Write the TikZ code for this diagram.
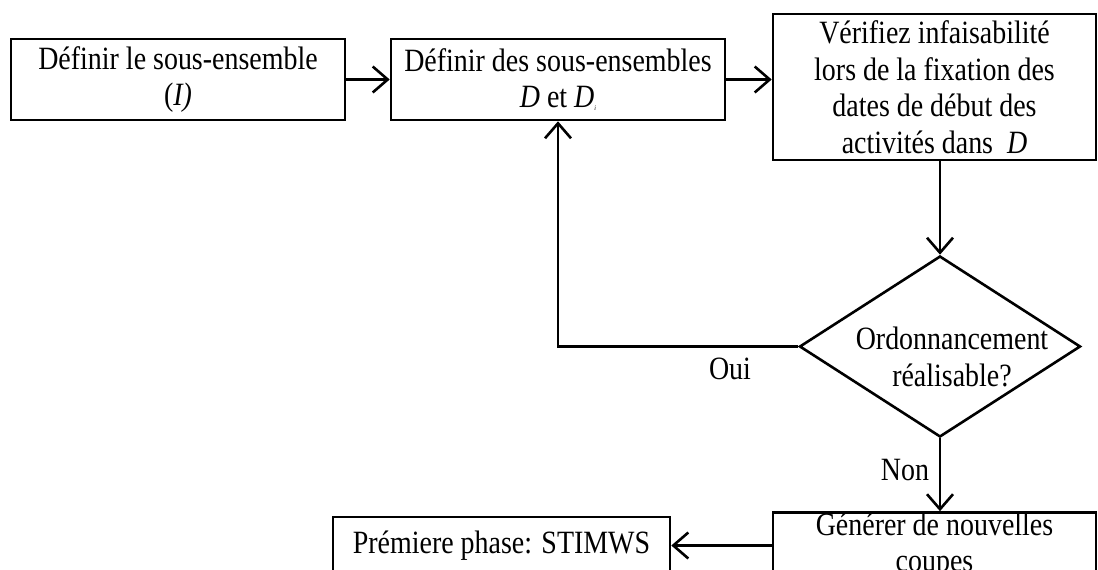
\documentclass[tikz,border=0pt]{standalone}
\usepackage{fontspec}
\setmainfont[FakeStretch=0.86]{Liberation Serif}
\usetikzlibrary{shapes.geometric,arrows.meta}
\tikzset{
  box/.style={draw, line width=2.6pt, rectangle, inner sep=0pt, align=center,
    font=\fontsize{32.5}{36.5}\selectfont},
  dia/.style={draw, line width=2.6pt, diamond, inner sep=0pt},
  lbl/.style={inner sep=0pt, align=center, font=\fontsize{32.5}{36.5}\selectfont},
  conn/.style={line width=2.6pt, -{Straight Barb[length=15pt,width=26pt,line width=2.6pt]}},
}
\begin{document}
\begin{tikzpicture}[x=1pt,y=-1pt]
\useasboundingbox (0,0) rectangle (1098,570);
\clip (0,0) rectangle (1098,570);
\node[box, minimum width=334pt, minimum height=81pt] (b1) at (178,79.5)
  {Définir le sous-ensemble\\(\textit{I)}};
\node[box, minimum width=334pt, minimum height=81pt] (b2) at (558,79.5)
  {Définir des sous-ensembles\\\textit{D} et \textit{D}\raisebox{-3pt}{\fontsize{7}{7}\selectfont\textit{i}}};
\node[box, minimum width=323pt, minimum height=146pt] (b3) at (934.5,87)
  {Vérifiez infaisabilité\\lors de la fixation des\\dates de début des\\activités dans \ \textit{D}};
\node[dia, minimum width=281pt, minimum height=181pt] (d) at (940,346.5) {};
\node[lbl] (dt) at (952,357) {Ordonnancement\\réalisable?};
\node[box, minimum width=323pt, minimum height=59pt] (b4) at (934.5,545.5)
  {Générer de nouvelles\\coupes};
\node[box, minimum width=337pt, minimum height=57pt] (b5) at (501.5,545.5)
  {Prémiere phase: STIMWS};
\node[lbl] (oui) at (730,369) {Oui};
\node[lbl] (non) at (905,470) {Non};
\draw[conn] (b1.east) -- (b2.west);
\draw[conn] (b2.east) -- (b2.east -| b3.west);
\draw[conn] (d.north |- b3.south) -- (d.north);
\draw[conn] (d.west) -| (b2.south);
\draw[conn] (d.south) -- (d.south |- b4.north);
\draw[conn] (b4.west) -- (b5.east);
\end{tikzpicture}
\end{document}
